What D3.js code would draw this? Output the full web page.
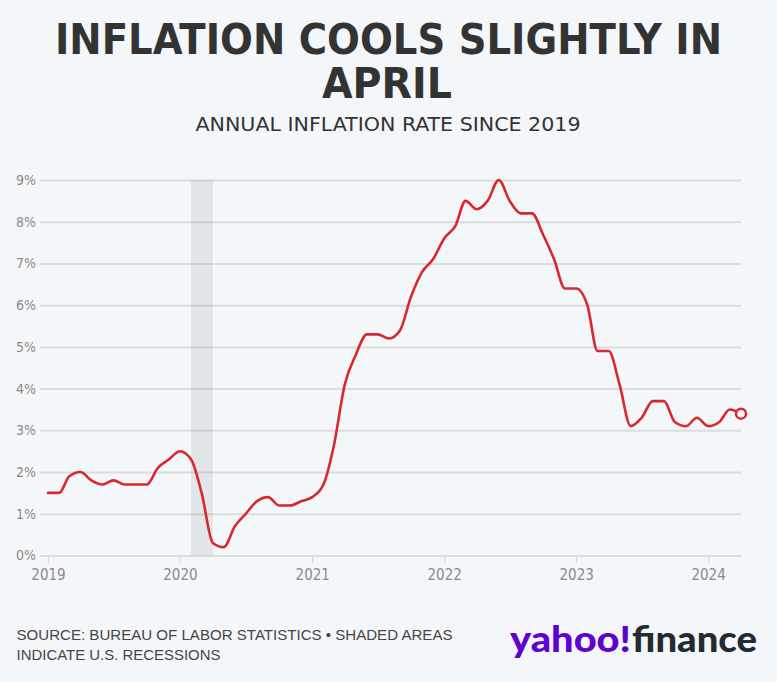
<!DOCTYPE html>
<html>
<head>
<meta charset="utf-8">
<script src="https://cdn.jsdelivr.net/npm/d3@7"></script>
<style>
  html, body { margin: 0; padding: 0; background: #f4f7fa; }
  svg { display: block; }
</style>
</head>
<body>
<svg id="chart" width="777" height="682"></svg>
<script>
// ---- data ----
const months = [
  "2019-01","2019-02","2019-03","2019-04","2019-05","2019-06","2019-07","2019-08","2019-09","2019-10","2019-11","2019-12",
  "2020-01","2020-02","2020-03","2020-04","2020-05","2020-06","2020-07","2020-08","2020-09","2020-10","2020-11","2020-12",
  "2021-01","2021-02","2021-03","2021-04","2021-05","2021-06","2021-07","2021-08","2021-09","2021-10","2021-11","2021-12",
  "2022-01","2022-02","2022-03","2022-04","2022-05","2022-06","2022-07","2022-08","2022-09","2022-10","2022-11","2022-12",
  "2023-01","2023-02","2023-03","2023-04","2023-05","2023-06","2023-07","2023-08","2023-09","2023-10","2023-11","2023-12",
  "2024-01","2024-02","2024-03","2024-04"
];
const inflation = [
  1.5, 1.5, 1.9, 2.0, 1.8, 1.7, 1.8, 1.7, 1.7, 1.7, 2.1, 2.3,
  2.5, 2.3, 1.5, 0.3, 0.2, 0.7, 1.0, 1.3, 1.4, 1.2, 1.2, 1.3,
  1.4, 1.7, 2.6, 4.1, 4.8, 5.3, 5.3, 5.2, 5.4, 6.2, 6.8, 7.1,
  7.6, 7.9, 8.5, 8.3, 8.5, 9.0, 8.5, 8.2, 8.2, 7.7, 7.1, 6.4,
  6.4, 6.0, 4.9, 4.9, 4.1, 3.1, 3.3, 3.7, 3.7, 3.2, 3.1, 3.3,
  3.1, 3.2, 3.5, 3.4
];
const yTicks = [0, 1, 2, 3, 4, 5, 6, 7, 8, 9];
const xTickYears = ["2019", "2020", "2021", "2022", "2023", "2024"];
const recessionStart = "2020-02";
const recessionEnd = "2020-04";

const titleLines = ["INFLATION COOLS SLIGHTLY IN", "APRIL"];
const subtitle = "ANNUAL INFLATION RATE SINCE 2019";
const sourceLines = ["SOURCE: BUREAU OF LABOR STATISTICS \u2022 SHADED AREAS", "INDICATE U.S. RECESSIONS"];

// ---- drawing ----
const svg = d3.select("#chart");
const parseMonth = d3.timeParse("%Y-%m");
const parseYear = d3.timeParse("%Y");
const data = months.map((m, i) => ({ date: parseMonth(m), value: inflation[i] }));

const x = d3.scaleTime()
  .domain([parseMonth(months[0]), parseMonth(months[months.length - 1])])
  .range([48, 741]);
const y = d3.scaleLinear().domain([0, 9]).range([555.5, 180]);

svg.append("rect").attr("width", 777).attr("height", 682).attr("fill", "#f4f7fa");

// titles
const titleFont = "'Liberation Sans Narrow', 'DejaVu Sans Condensed', 'Roboto', sans-serif";
svg.append("text")
  .attr("x", 388.5).attr("y", 53.5)
  .attr("text-anchor", "middle")
  .attr("font-family", titleFont)
  .attr("font-weight", "bold")
  .attr("font-size", 43)
  .attr("fill", "#333333")
  .attr("textLength", 667).attr("lengthAdjust", "spacingAndGlyphs")
  .text(titleLines[0]);
svg.append("text")
  .attr("x", 387).attr("y", 97.5)
  .attr("text-anchor", "middle")
  .attr("font-family", titleFont)
  .attr("font-weight", "bold")
  .attr("font-size", 43)
  .attr("fill", "#333333")
  .attr("textLength", 130).attr("lengthAdjust", "spacingAndGlyphs")
  .text(titleLines[1]);

svg.append("text")
  .attr("x", 388).attr("y", 130.7)
  .attr("text-anchor", "middle")
  .attr("font-family", "'Liberation Sans Narrow', 'DejaVu Sans Condensed', sans-serif")
  .attr("font-size", 19.5)
  .attr("fill", "#333333")
  .attr("textLength", 385).attr("lengthAdjust", "spacingAndGlyphs")
  .text(subtitle);

// gridlines + y labels
const yAxis = d3.axisLeft(y)
  .tickValues(yTicks)
  .tickSize(-(741 - 40))
  .tickPadding(4)
  .tickFormat(d => d + "%");
const gy = svg.append("g").attr("transform", "translate(40,0)").call(yAxis);
gy.select(".domain").remove();
gy.selectAll(".tick line").attr("stroke", "#dcdcdc").attr("stroke-width", 2);
gy.selectAll(".tick text")
  .attr("font-family", "'Liberation Sans Narrow', 'DejaVu Sans Condensed', sans-serif")
  .attr("font-size", 14)
  .attr("fill", "#8a8a8a");

// x axis
const xAxis = d3.axisBottom(x)
  .tickValues(xTickYears.map(parseYear))
  .tickSize(7)
  .tickPadding(6)
  .tickFormat(d3.timeFormat("%Y"));
const gx = svg.append("g").attr("transform", "translate(0,556)").call(xAxis);
gx.select(".domain").remove();
gx.selectAll(".tick line").attr("stroke", "#dcdcdc").attr("stroke-width", 1.5);
gx.selectAll(".tick text")
  .attr("font-family", "'Liberation Sans Narrow', 'DejaVu Sans Condensed', sans-serif")
  .attr("font-size", 15)
  .attr("fill", "#8a8a8a");

// recession shading
svg.append("rect")
  .attr("x", x(parseMonth(recessionStart)))
  .attr("width", x(parseMonth(recessionEnd)) - x(parseMonth(recessionStart)))
  .attr("y", y(9))
  .attr("height", y(0) - y(9))
  .attr("fill", "#000")
  .attr("fill-opacity", 0.065);

// line
const line = d3.line()
  .x(d => x(d.date))
  .y(d => y(d.value))
  .curve(d3.curveMonotoneX);
svg.append("path")
  .datum(data)
  .attr("d", line)
  .attr("fill", "none")
  .attr("stroke", "#d8282c")
  .attr("stroke-width", 2.6)
  .attr("stroke-linejoin", "round")
  .attr("stroke-linecap", "round");

// last point marker
const last = data[data.length - 1];
svg.append("circle")
  .attr("cx", x(last.date)).attr("cy", y(last.value))
  .attr("r", 5)
  .attr("fill", "#f4f7fa")
  .attr("stroke", "#d8282c")
  .attr("stroke-width", 2.5);

// source
const src = svg.append("text")
  .attr("font-family", "'Liberation Sans', 'Inter', sans-serif")
  .attr("font-size", 15)
  .attr("fill", "#444444");
src.append("tspan").attr("x", 16.5).attr("y", 640)
  .attr("textLength", 436).attr("lengthAdjust", "spacingAndGlyphs").text(sourceLines[0]);
src.append("tspan").attr("x", 16.5).attr("y", 660)
  .attr("textLength", 204).attr("lengthAdjust", "spacingAndGlyphs").text(sourceLines[1]);

// logo
svg.append("text")
  .attr("x", 510).attr("y", 651.5)
  .attr("font-family", "Lato, 'Open Sans', sans-serif")
  .attr("font-weight", 900)
  .attr("font-size", 36)
  .attr("fill", "#6001d2")
  .attr("textLength", 121).attr("lengthAdjust", "spacingAndGlyphs")
  .text("yahoo!");
svg.append("text")
  .attr("x", 632).attr("y", 651.5)
  .attr("font-family", "Lato, 'Open Sans', sans-serif")
  .attr("font-weight", 900)
  .attr("font-size", 36)
  .attr("fill", "#232a31")
  .attr("textLength", 125).attr("lengthAdjust", "spacingAndGlyphs")
  .text("finance");
</script>
</body>
</html>
